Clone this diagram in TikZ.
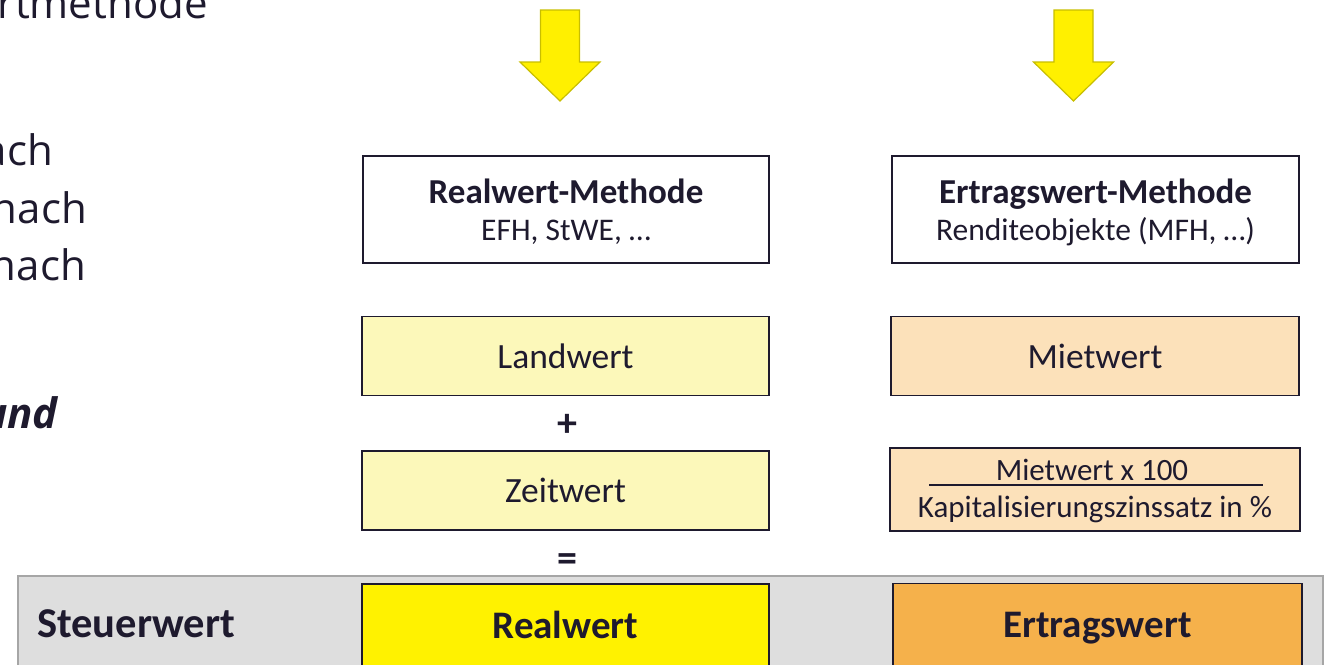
\documentclass[tikz,border=0pt]{standalone}
\usepackage{fontspec}
\setmainfont{Carlito}
\newfontfamily\sidefont{Open Sans}
\usepackage{xcolor}
\usetikzlibrary{positioning}

\definecolor{ink}{HTML}{1E1A2E}
\definecolor{landfill}{HTML}{FCF8BA}
\definecolor{mietfill}{HTML}{FCE1BA}
\definecolor{realfill}{HTML}{FFF200}
\definecolor{ertfill}{HTML}{F5B14B}
\definecolor{bandfill}{HTML}{DEDEDE}
\definecolor{bandline}{HTML}{A6A6A6}
\definecolor{arrfill}{HTML}{FFF000}
\definecolor{arrline}{HTML}{C8BE00}

\begin{document}
\begin{tikzpicture}[x=1pt, y=-1pt,
        method/.style={draw=ink, fill=white, line width=1.5pt, rectangle, minimum height=107pt, minimum width=406pt},
        methodtext/.style={align=center, text=ink, font=\fontsize{31.5}{37}\selectfont},
        part/.style={draw=ink, fill=landfill, line width=1.5pt, rectangle, minimum height=79pt, minimum width=407pt, text=ink, text height=24pt, text depth=0pt, font=\fontsize{35.5}{42}\selectfont},
        result/.style={draw=ink, line width=1.5pt, rectangle, minimum height=82pt, minimum width=407pt, text=ink, text height=26pt, text depth=0pt, font=\fontsize{39}{46}\selectfont\bfseries},
        op/.style={text=ink, font=\fontsize{40}{46}\selectfont\bfseries},
        side/.style={text=ink, anchor=base east, inner sep=0pt, font=\sidefont\fontsize{42}{48}\selectfont},
        bigarrow/.style={draw=arrline, fill=arrfill, line width=1.2pt, line join=miter}
    ]
        \useasboundingbox (0,0) rectangle (1330,664);
        \clip (0,0) rectangle (1330,664);
        % cut-off text on the left
        \node (side1) [side] at (208,18) {rtmethode};
        \node (side2) [side] at (53,165) {ach};
        \node (side3) [side] at (87,223) {nach};
        \node (side4) [side] at (86,280) {nach};
        \node (side5) [side, font=\sidefont\fontsize{42}{48}\selectfont\bfseries\itshape] at (58,428) {und};
        % yellow arrows
        \foreach \c in {560,1073.5}
            \draw [bigarrow] ({\c-19.5},10) -- ({\c+19.5},10) -- ({\c+19.5},62) -- ({\c+40},62) -- (\c,101) -- ({\c-40},62) -- ({\c-19.5},62) -- cycle;
        % methods
        \node (realm) [method] at (566,209.5) {};
        \node (realmtext) [methodtext] at ([yshift=-2.5pt]realm.center) {{\fontsize{35}{37}\selectfont\bfseries Realwert-Methode}\\EFH, StWE, …};
        \node (ertm) [method, minimum width=407pt] at (1095.5,209.5) {};
        \node (ertmtext) [methodtext] at ([yshift=-2.5pt]ertm.center) {{\fontsize{35}{37}\selectfont\bfseries Ertragswert-Methode}\\Renditeobjekte (MFH, …)};
        % Realwert column
        \node (land) [part] at (565.5,356) {Landwert};
        \node (plus) [op] at (567,425) {+};
        \node (zeit) [part] at (565.5,490.5) {Zeitwert};
        \node (equal) [op] at (567,563) {=};
        % Ertragswert column
        \node (miet) [part, fill=mietfill, minimum width=408pt] at (1095,356) {Mietwert};
        \node (frac) [part, fill=mietfill, minimum width=410pt, minimum height=83pt] at (1095,489.5) {};
        \node (num) [text=ink, font=\fontsize{31}{36}\selectfont, anchor=base] at (1092,480) {Mietwert x 100};
        \node (den) [text=ink, font=\fontsize{31}{36}\selectfont, anchor=base] at (1095,517) {Kapitalisierungszinssatz in \%};
        \coordinate (barL) at (929,485);
        \coordinate (barR) at (1263,485);
        \draw [ink, line width=1.3pt] (barL) -- (barR);
        % Steuerwert band
        \draw [draw=bandline, fill=bandfill, line width=1.8pt] (18,576) rectangle (1323,720);
        \node (steuer) [text=ink, anchor=base west, inner sep=0pt, font=\fontsize{42.5}{46}\selectfont\bfseries] at (37,637) {Steuerwert};
        \node (realw) [result, fill=realfill] at (565.5,625) {Realwert};
        \node (ertw) [result, fill=ertfill, minimum width=409pt] at (1097.5,624.5) {Ertragswert};
    \end{tikzpicture}
\end{document}
